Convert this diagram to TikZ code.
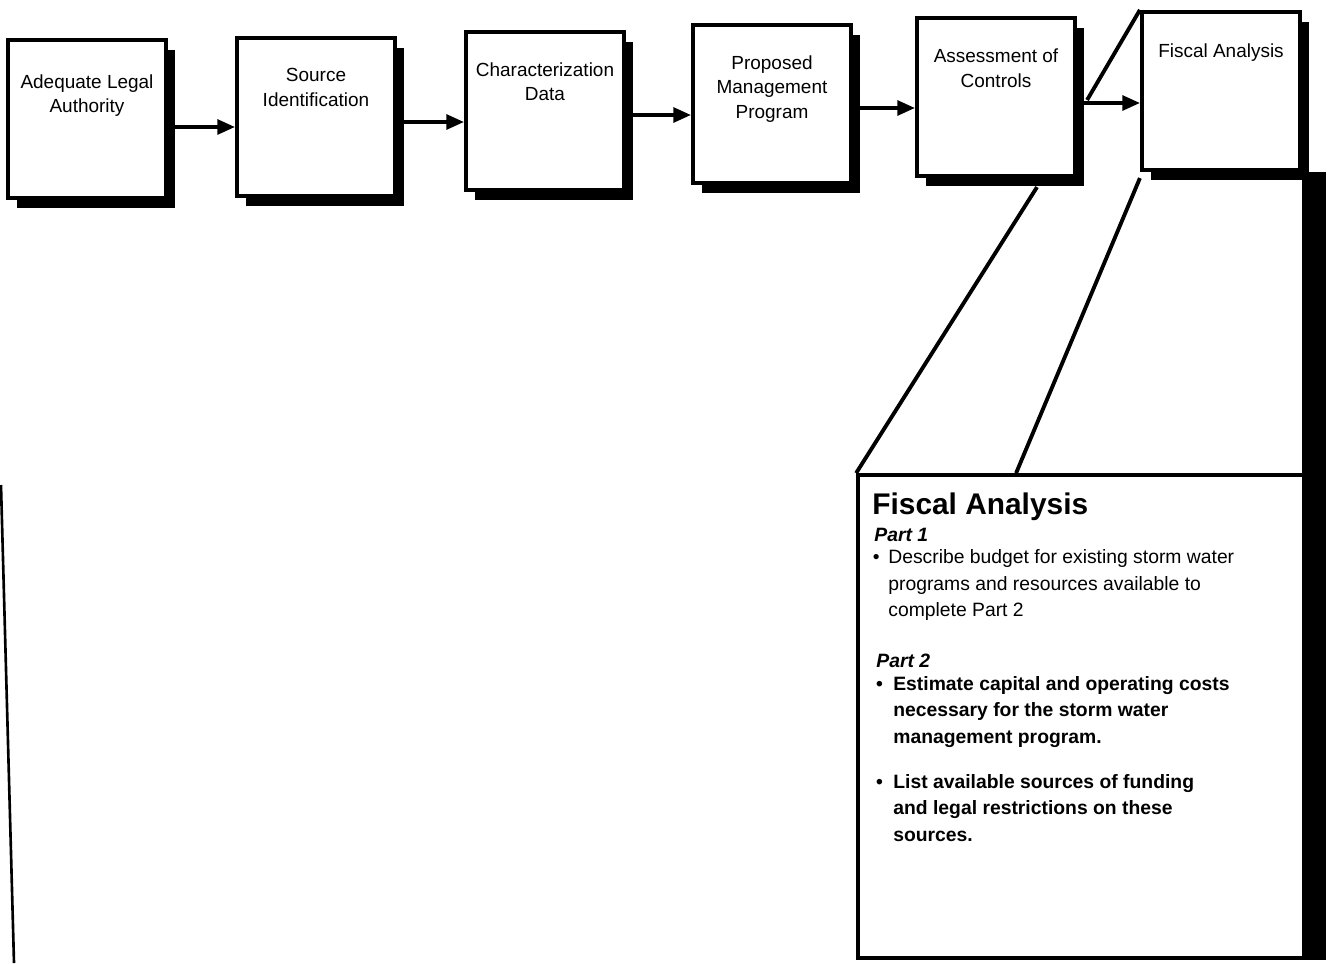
\documentclass[tikz,border=0pt]{standalone}
\usepackage{fontspec}
\setmainfont{Liberation Sans}
\usetikzlibrary{arrows.meta,positioning,shadows}

\begin{document}
\begin{tikzpicture}
	[x=0.02cm,y=-0.02cm,
	stage node/.style={shape=rectangle,draw,line width=2.4pt,fill=white,minimum width=3.16cm,minimum height=3.16cm,drop shadow={shadow xshift=5pt,shadow yshift=-5.5pt,fill=black,opacity=1}},
	stage text/.style={anchor=north,align=center,inner sep=0pt,font=\fontsize{10.8}{14.2}\selectfont},
	flow/.style={line width=1.8pt,-{Triangle[length=10pt,width=8.5pt]}},
	zoom line/.style={line width=2.2pt},
	part head/.style={anchor=base west,inner sep=0pt,font=\bfseries\itshape\fontsize{11}{14}\selectfont},
	body text/.style={anchor=north west,align=left,inner sep=0pt,font=\fontsize{11}{15.2}\selectfont},
	bold text/.style={body text,font=\bfseries\fontsize{11}{15}\selectfont}]
	\useasboundingbox (0,0) rectangle (1327,963);
	
	\node [stage node] (1) at (87,119) {};
	\node [stage node] (2) at (316,117) {};
	\node [stage node] (3) at (545,111) {};
	\node [stage node] (4) at (772,104) {};
	\node [stage node] (5) at (996,97) {};
	\node [stage node] (6) at (1221,91) {};
	
	\node [stage text] (1a) at ([yshift=-0.72cm]1.north) {Adequate Legal\\Authority};
	\node [stage text] (2a) at ([yshift=-0.64cm]2.north) {Source\\Identification};
	\node [stage text] (3a) at ([yshift=-0.64cm]3.north) {Characterization\\Data};
	\node [stage text] (4a) at ([yshift=-0.64cm]4.north) {Proposed\\Management\\Program};
	\node [stage text] (5a) at ([yshift=-0.66cm]5.north) {Assessment of\\Controls};
	\node [stage text] (6a) at ([yshift=-0.68cm]6.north) {Fiscal Analysis};
	
	\draw [flow] ([yshift=-0.16cm]1.east) -- ([yshift=-0.16cm]1.east -| 2.west);
	\draw [flow] ([yshift=-0.10cm]2.east) -- ([yshift=-0.10cm]2.east -| 3.west);
	\draw [flow] ([yshift=-0.08cm]3.east) -- ([yshift=-0.08cm]3.east -| 4.west);
	\draw [flow] ([yshift=-0.08cm]4.east) -- ([yshift=-0.08cm]4.east -| 5.west);
	\draw [flow] ([yshift=-0.12cm]5.east) -- ([yshift=-0.12cm]5.east -| 6.west);
	
	% expanded view of the last step
	\node [draw,line width=2.2pt,minimum width=9cm,minimum height=9.66cm,inner sep=0pt] (7) at (1083,716.5) {};
	\fill (6.south east) rectangle ([xshift=0.32cm]7.south east);
	\draw [zoom line] (6.north west) -- ([xshift=0.2cm,yshift=-0.06cm]5.east);
	\draw [zoom line] ([xshift=0.82cm,yshift=-0.18cm]5.south) -- (7.north west);
	\draw [zoom line] ([yshift=-0.12cm]6.south west) -- ([xshift=3.2cm]7.north west);
	
	\node [anchor=base west,inner sep=0pt,font=\bfseries\fontsize{17}{20}\selectfont] (8) at (872,514) {Fiscal Analysis};
	\node [part head] (9) at (874,541) {Part 1};
	\node [body text] (10) at (888,549) {\llap{•\hspace{5pt}}Describe budget for existing storm water\\programs and resources available to\\complete Part 2};
	\node [part head] (11) at (876,667) {Part 2};
	\node [bold text] (12) at (893,676) {\llap{•\hspace{6pt}}Estimate capital and operating costs\\necessary for the storm water\\management program.};
	\node [bold text] (13) at (893,774) {\llap{•\hspace{6pt}}List available sources of funding\\and legal restrictions on these\\sources.};
	
	\draw [line width=1.5pt] (1,485) -- (14,963);
\end{tikzpicture}
\end{document}
